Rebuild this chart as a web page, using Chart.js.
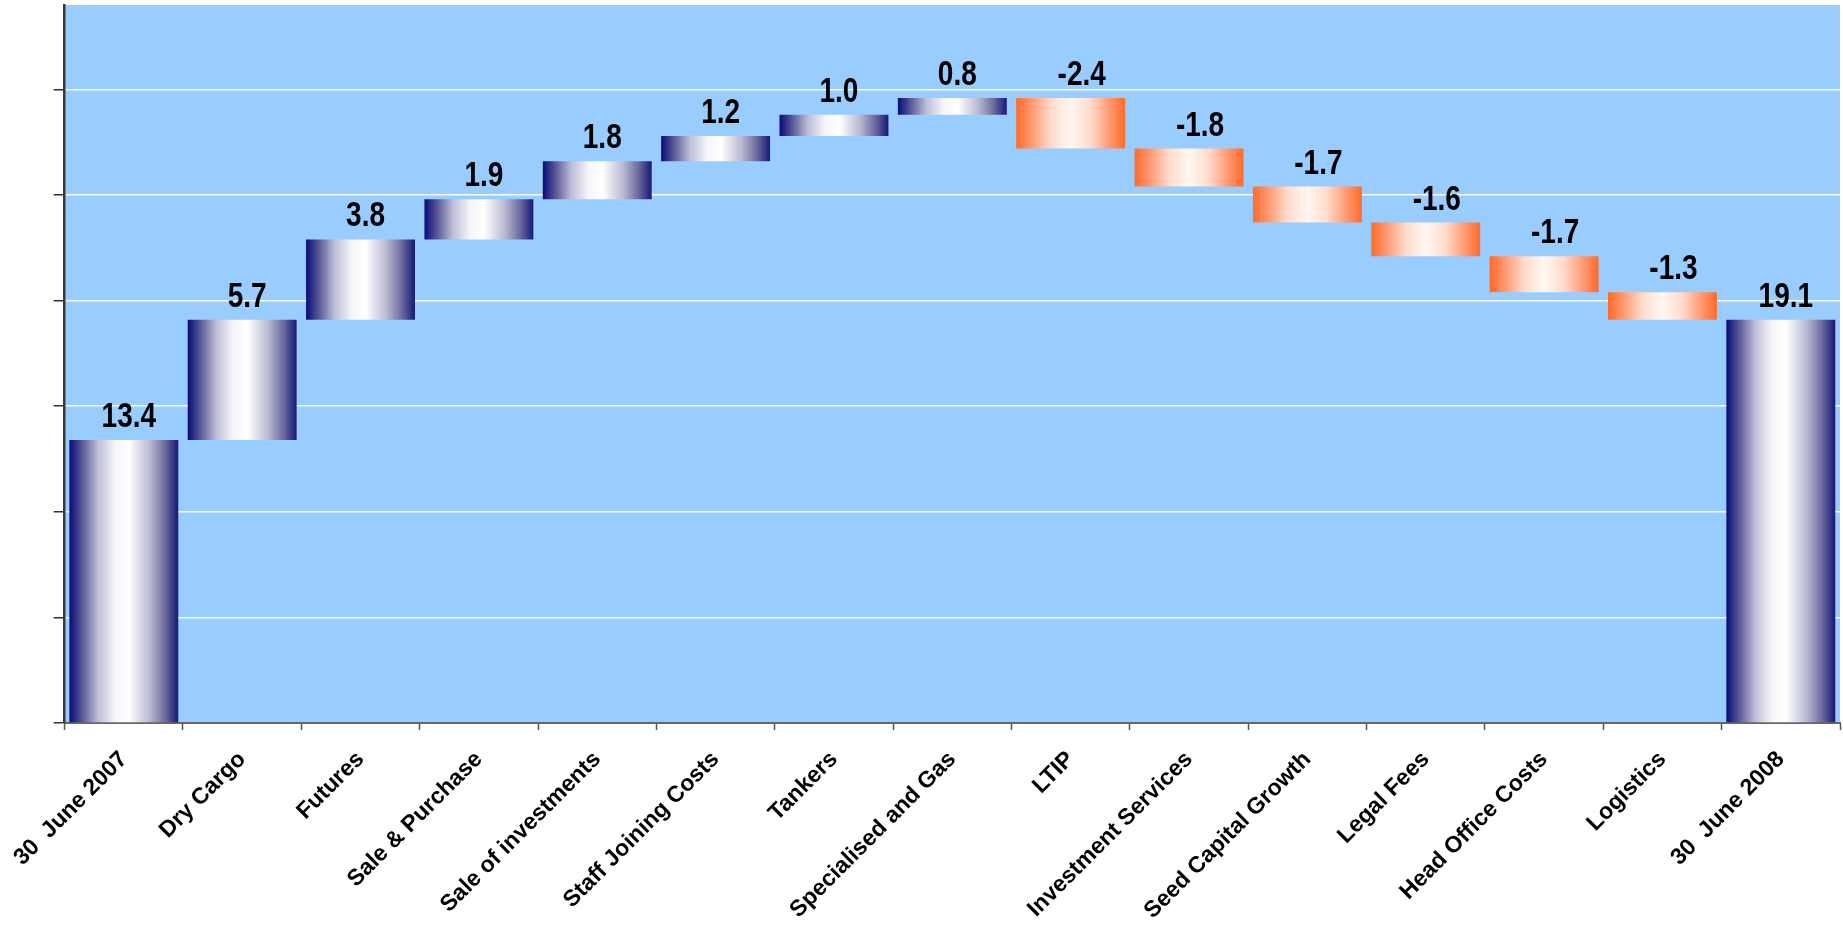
<!DOCTYPE html>
<html>
<head>
<meta charset="utf-8">
<title>Waterfall 2007 - 2008</title>
<script src="https://cdn.jsdelivr.net/npm/chart.js@4.4.1/dist/chart.umd.min.js"></script>
<style>
  html, body { margin: 0; padding: 0; background: #ffffff; }
  #wrap { width: 1843px; height: 930px; }
</style>
</head>
<body>
<div id="wrap"><canvas id="myChart" width="1843" height="930"></canvas></div>
<script>
'use strict';

// data
const categories = ['30  June 2007', 'Dry Cargo', 'Futures', 'Sale & Purchase', 'Sale of investments',
  'Staff Joining Costs', 'Tankers', 'Specialised and Gas', 'LTIP', 'Investment Services',
  'Seed Capital Growth', 'Legal Fees', 'Head Office Costs', 'Logistics', '30  June 2008'];
const values = [13.4, 5.7, 3.8, 1.9, 1.8, 1.2, 1.0, 0.8, -2.4, -1.8, -1.7, -1.6, -1.7, -1.3, 19.1];
const isTotal = [true, false, false, false, false, false, false, false, false, false, false, false, false, false, true];
const yTicks = [0, 5, 10, 15, 20, 25, 30];
const yMax = 34;

class View {

  constructor() {
    this.colors = {
      plot: '#99ccff',
      grid: 'rgba(255,255,255,0.95)',
      text: '#000000'
    };
    this.barPct = 0.92;
    // narrow look of the value labels: bold sans squeezed sideways
    this.labelFont = 'bold 35px "Liberation Sans", Arial, sans-serif';
    this.labelSqueeze = 0.8;
    this.draw();
  }

  // floating [from, to] pairs for the waterfall
  floatingBars() {
    const out = [];
    let run = 0;
    values.forEach((v, i) => {
      if (isTotal[i]) {
        out.push([0, v]);
        run = v;
      } else {
        out.push([run, run + v]);
        run += v;
      }
    });
    return out;
  }

  barGradient(context) {
    const chart = context.chart;
    const xs = chart.scales.x;
    if (!xs || !chart.chartArea) return '#1a1a80';
    const i = context.dataIndex;
    const cx = xs.getPixelForValue(i);
    const w = (xs.width / categories.length) * this.barPct;
    const g = chart.ctx.createLinearGradient(cx - w / 2, 0, cx + w / 2, 0);
    if (values[i] < 0) {
      g.addColorStop(0, '#ff6a28');
      g.addColorStop(0.15, '#ff9c76');
      g.addColorStop(0.32, '#ffdccc');
      g.addColorStop(0.5, '#fff7f2');
      g.addColorStop(0.68, '#ffdccc');
      g.addColorStop(0.85, '#ff9c76');
      g.addColorStop(1, '#ff6a28');
    } else {
      g.addColorStop(0, '#0a0a7a');
      g.addColorStop(0.12, '#5a5a98');
      g.addColorStop(0.26, '#bcbcd6');
      g.addColorStop(0.42, '#f6f6fb');
      g.addColorStop(0.55, '#ffffff');
      g.addColorStop(0.74, '#b8b8d2');
      g.addColorStop(0.88, '#6a6a9c');
      g.addColorStop(1, '#17177a');
    }
    return g;
  }

  draw() {
    const ctx = document.getElementById('myChart');
    const self = this;

    const plotBackground = {
      id: 'plotBackground',
      beforeDraw(chart) {
        const a = chart.chartArea;
        chart.ctx.save();
        chart.ctx.fillStyle = self.colors.plot;
        chart.ctx.fillRect(a.left, a.top, a.right - a.left, a.bottom - a.top);
        chart.ctx.restore();
      }
    };

    const valueLabels = {
      id: 'valueLabels',
      afterDatasetsDraw(chart) {
        const c = chart.ctx;
        const meta = chart.getDatasetMeta(0);
        meta.data.forEach((el, i) => {
          const top = Math.min(el.y, el.base);
          const shift = values[i] < 0 ? 11 : 5;
          c.save();
          c.translate(el.x + shift, top - 13);
          c.scale(self.labelSqueeze, 1);
          c.font = self.labelFont;
          c.fillStyle = self.colors.text;
          c.textAlign = 'center';
          c.textBaseline = 'alphabetic';
          c.fillText(values[i].toFixed(1), 0, 0);
          c.restore();
        });
      }
    };

    new Chart(ctx, {
      type: 'bar',
      data: {
        labels: categories,
        datasets: [{
          data: this.floatingBars(),
          backgroundColor: (context) => this.barGradient(context),
          borderWidth: 0,
          borderSkipped: false,
          barPercentage: this.barPct,
          categoryPercentage: 1.0
        }]
      },
      options: {
        responsive: false,
        animation: false,
        devicePixelRatio: 1,
        layout: { padding: { top: 5, right: 3, left: 0, bottom: 0 } },
        plugins: {
          legend: { display: false },
          tooltip: { enabled: false }
        },
        scales: {
          x: {
            offset: true,
            grid: {
              offset: true,
              drawOnChartArea: false,
              tickLength: 7,
              tickColor: '#555555',
              tickWidth: 1.5
            },
            border: { color: '#666666', width: 2 },
            ticks: {
              autoSkip: false,
              minRotation: 45,
              maxRotation: 45,
              padding: 16,
              color: this.colors.text,
              font: { family: '"Liberation Sans", Arial, sans-serif', size: 23, weight: 'bold' }
            },
            afterFit(scale) { scale.height = 207; }
          },
          y: {
            min: 0,
            max: yMax,
            afterBuildTicks(scale) {
              scale.ticks = yTicks.map(v => ({ value: v }));
            },
            grid: {
              color: this.colors.grid,
              lineWidth: 1.5,
              tickLength: 11,
              tickColor: '#333333',
              tickWidth: 1.5
            },
            border: { color: '#3a3a3a', width: 2.5 },
            ticks: { display: false },
            afterFit(scale) { scale.width = 61; }
          }
        }
      },
      plugins: [plotBackground, valueLabels]
    });
  }
}

new View();
</script>
</body>
</html>
